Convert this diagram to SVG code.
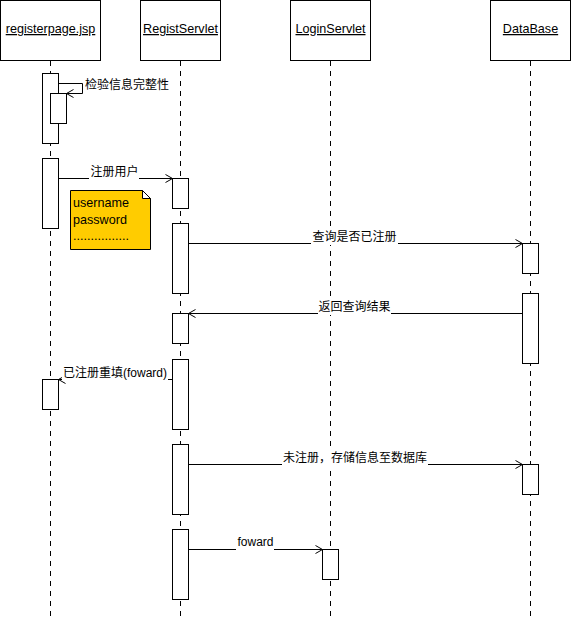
<svg xmlns="http://www.w3.org/2000/svg" width="571" height="620" viewBox="0 0 571 620">
<style>
  text { font-family: "Liberation Sans", "Noto Sans CJK SC", Arial, sans-serif; font-size: 12px; fill: #000; }
  .head { fill: #fff; stroke: #000; stroke-width: 1; }
  .title { text-anchor: middle; text-decoration: underline; font-size: 12.6px; }
  .note { font-size: 12.6px; }
  .life { stroke: #000; stroke-width: 1; stroke-dasharray: 5,5; fill: none; }
  .act { fill: #fff; stroke: #000; stroke-width: 1; }
  .msg { stroke: #000; stroke-width: 1; fill: none; marker-end: url(#arrow); }
  .lbl { text-anchor: middle; }
  .bg { fill: #fff; stroke: none; }
</style>
<defs>
  <marker id="arrow" markerUnits="userSpaceOnUse" markerWidth="10" markerHeight="10" viewBox="0 0 10 10" refX="8" refY="4.5" orient="auto">
    <path d="M1,0.5 L8,4.5 L1,8.5" fill="none" stroke="#000" stroke-width="1"/>
  </marker>
</defs>
<rect width="571" height="620" fill="#fff"/>

<g id="lifelines">
  <line class="life" x1="50.5" y1="61" x2="50.5" y2="620"/>
  <line class="life" x1="180.5" y1="61" x2="180.5" y2="620"/>
  <line class="life" x1="330.5" y1="61" x2="330.5" y2="620"/>
  <line class="life" x1="530.5" y1="61" x2="530.5" y2="620"/>
</g>

<g id="registerpage">
  <rect class="head" x="0.5" y="0.5" width="100" height="60"/>
  <text class="title" x="50.5" y="33">registerpage.jsp</text>
  <rect class="act" x="42.5" y="73.5" width="16" height="70"/>
  <rect class="act" x="50.5" y="93.5" width="16" height="30"/>
  <rect class="act" x="42.5" y="158.5" width="16" height="70"/>
  <rect class="act" x="42.5" y="379.5" width="16" height="30"/>
</g>

<g id="RegistServlet">
  <rect class="head" x="140.5" y="0.5" width="80" height="60"/>
  <text class="title" x="180.5" y="33">RegistServlet</text>
  <rect class="act" x="172.5" y="178.5" width="16" height="30"/>
  <rect class="act" x="172.5" y="223.5" width="16" height="70"/>
  <rect class="act" x="172.5" y="313.5" width="16" height="30"/>
  <rect class="act" x="172.5" y="359.5" width="16" height="70"/>
  <rect class="act" x="172.5" y="444.5" width="16" height="70"/>
  <rect class="act" x="172.5" y="529.5" width="16" height="70"/>
</g>

<g id="LoginServlet">
  <rect class="head" x="290.5" y="0.5" width="80" height="60"/>
  <text class="title" x="330.5" y="33">LoginServlet</text>
  <rect class="act" x="322.5" y="549.5" width="16" height="30"/>
</g>

<g id="DataBase">
  <rect class="head" x="490.5" y="0.5" width="80" height="60"/>
  <text class="title" x="530.5" y="33">DataBase</text>
  <rect class="act" x="522.5" y="243.5" width="16" height="30"/>
  <rect class="act" x="522.5" y="293.5" width="16" height="70"/>
  <rect class="act" x="522.5" y="464.5" width="16" height="30"/>
</g>

<g id="note">
  <path d="M70.5,190.5 H142.5 L150.5,198.5 V249.5 H70.5 Z" fill="#FFCC00" stroke="#000" stroke-width="1"/>
  <path d="M142.5,190.5 L150.5,198.5 H142.5 Z" fill="#fff" stroke="#000" stroke-width="1"/>
  <text class="note" x="73" y="207">username</text>
  <text class="note" x="73" y="223.5">password</text>
  <text class="note" x="73" y="240">................</text>
</g>

<g id="connectors">
  <path class="msg" d="M58.5,83.5 H82.5 V93.5 H66.5"/>
  <line class="msg" x1="58.5" y1="178.5" x2="172.5" y2="178.5"/>
  <line class="msg" x1="188.5" y1="243.5" x2="522.5" y2="243.5"/>
  <line class="msg" x1="522.5" y1="313.5" x2="188.5" y2="313.5"/>
  <line class="msg" x1="172.5" y1="379.5" x2="58.5" y2="379.5"/>
  <line class="msg" x1="188.5" y1="464.5" x2="522.5" y2="464.5"/>
  <line class="msg" x1="188.5" y1="549.5" x2="322.5" y2="549.5"/>
</g>

<g id="labels">
  <text x="85" y="89">检验信息完整性</text>
  <rect class="bg" x="89" y="164" width="50" height="16"/>
  <text class="lbl" x="114.5" y="175.5">注册用户</text>
  <rect class="bg" x="311" y="229" width="87" height="16"/>
  <text class="lbl" x="354.5" y="240.5">查询是否已注册</text>
  <rect class="bg" x="318" y="299" width="73" height="16"/>
  <text class="lbl" x="354.5" y="310.5">返回查询结果</text>
  <rect class="bg" x="62" y="365" width="106" height="16"/>
  <text class="lbl" x="115" y="376.5">已注册重填(foward)</text>
  <rect class="bg" x="282" y="450" width="146" height="16"/>
  <text class="lbl" x="355" y="461.5">未注册，存储信息至数据库</text>
  <rect class="bg" x="236" y="535" width="38" height="16"/>
  <text class="lbl" x="255.5" y="546">foward</text>
</g>
</svg>
